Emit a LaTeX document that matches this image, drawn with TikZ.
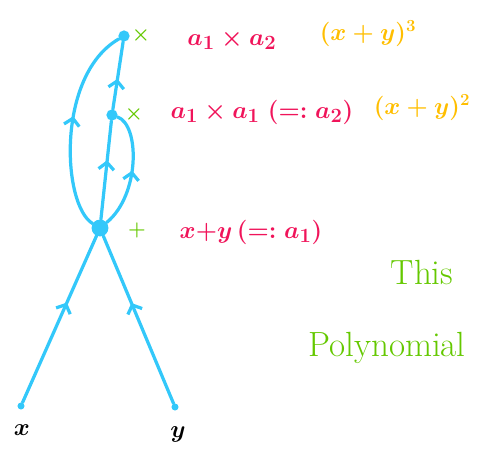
\documentclass[tikz,border=0pt]{standalone}
\usepackage{amsmath}
\usetikzlibrary{positioning, arrows.meta, decorations.markings}
\definecolor{EdgeBlue}{RGB}{51, 200, 250}
\definecolor{LabelPink}{RGB}{240, 20, 90}
\definecolor{PowerOrange}{RGB}{255, 190, 0}
\definecolor{OpGreen}{RGB}{100, 200, 0}

\begin{document}
\begin{tikzpicture}[x=0.025cm, y=-0.025cm,
        node distance=0.2cm,
        vertex/.style={circle, fill=EdgeBlue, inner sep=0pt, minimum size=#1},
        edge/.style={EdgeBlue, line width=2.3pt, line cap=round},
        midarrow/.style={postaction={decorate}, decoration={markings,
            mark=at position #1 with {\arrow{Straight Barb[length=5pt, width=11pt]}}}},
        op/.style={text=OpGreen, font=\Large\boldmath},
        expr/.style={text=LabelPink, font=\fontsize{19}{23}\selectfont\boldmath},
        power/.style={text=PowerOrange, font=\fontsize{18.5}{22}\selectfont\boldmath},
        remark/.style={text=OpGreen, font=\Huge}]

        \useasboundingbox (0,0) rectangle (480,459);

        % Inputs
        \node[vertex=5pt] (xin) at (21, 406) {};
        \node[vertex=5pt] (yin) at (175, 407) {};
        \node[font=\LARGE\boldmath] (xlbl) at (22, 430) {$x$};
        \node[font=\LARGE\boldmath] (ylbl) at (178, 434) {$y$};

        % Gates
        \node[vertex=12pt] (plus) at (100, 228) {};
        \node[vertex=8pt] (mid) at (112, 115) {};
        \node[vertex=8pt] (top) at (124, 36) {};

        \node[op] (opplus) at (137, 230) {$+$};
        \node[op] (opmid) at (134, 114) {$\times$};
        \node[op] (optop) at (141, 35) {$\times$};

        % Wires
        \draw[edge, midarrow=0.6] (xin) -- (plus);
        \draw[edge, midarrow=0.6] (yin) -- (plus);
        \draw[edge, midarrow=0.6] (plus) -- (mid);
        \draw[edge, midarrow=0.5] (plus) .. controls (140, 195) and (140, 125) .. (mid);
        \draw[edge, midarrow=0.55] (plus) .. controls (62, 205) and (56, 75) .. (top);
        \draw[edge, midarrow=0.45] (mid) -- (top);

        % What each gate computes
        \node[expr] (valtop) at (232, 40) {$a_1 \times a_2$};
        \node[power] (powtop) at (368, 34) {$(x+y)^3$};
        \node[expr] (valmid) at (262, 112) {$a_1 \times a_1\ (=: a_2)$};
        \node[power] (powmid) at (422, 108) {$(x+y)^2$};
        \node[expr] (valplus) at (251, 232) {$x{+}y\,(=: a_1)$};

        \node[remark] (this) at (422, 272) {This};
        \node[remark] (poly) at (387, 348) {Polynomial};
\end{tikzpicture}
\end{document}
